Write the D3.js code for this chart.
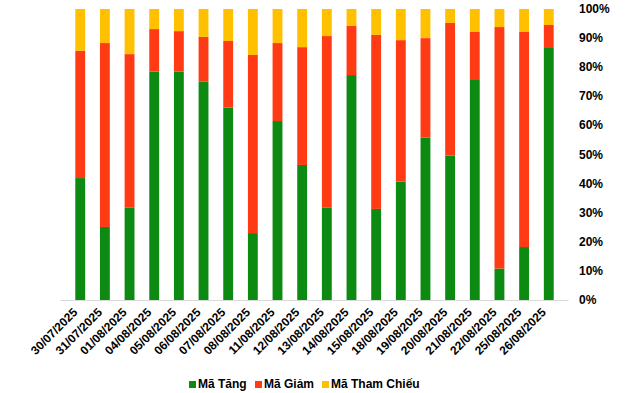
<!DOCTYPE html>
<html>
<head>
<meta charset="utf-8">
<script src="https://cdn.jsdelivr.net/npm/d3@7"></script>
<style>
  body{margin:0;background:#fff;}
  svg text{font-family:"Liberation Sans",Arial,sans-serif;font-weight:bold;fill:#000;}
</style>
</head>
<body>
<svg width="640" height="393"></svg>
<script>
const dates=['30/07/2025','31/07/2025','01/08/2025','04/08/2025','05/08/2025','06/08/2025','07/08/2025','08/08/2025','11/08/2025','12/08/2025','13/08/2025','14/08/2025','15/08/2025','18/08/2025','19/08/2025','20/08/2025','21/08/2025','22/08/2025','25/08/2025','26/08/2025'];
const maTang=[41.9,25.1,31.7,78.5,78.5,75.0,66.1,23.0,61.5,46.4,31.7,77.3,31.3,40.7,55.8,49.6,75.6,10.8,18.2,86.6];
const maGiam=[43.7,63.2,52.8,14.6,13.9,15.4,22.9,61.2,26.8,40.5,59.0,16.9,59.8,48.6,34.2,45.6,16.5,83.0,73.9,7.9];
const maThamChieu=[14.4,11.7,15.5,6.9,7.6,9.6,11.0,15.8,11.7,13.1,9.3,5.8,8.9,10.7,10.0,4.8,7.9,6.2,7.9,5.5];
const seriesNames=['Mã Tăng','Mã Giảm','Mã Tham Chiếu'];
const colors=['#0C8A12','#FF3B16','#FFC000'];
const yTicks=[0,0.1,0.2,0.3,0.4,0.5,0.6,0.7,0.8,0.9,1];

const rows=dates.map((d,i)=>({date:d,'Mã Tăng':maTang[i],'Mã Giảm':maGiam[i],'Mã Tham Chiếu':maThamChieu[i]}));
const stacked=d3.stack().keys(seriesNames).offset(d3.stackOffsetExpand)(rows);

const svg=d3.select('svg');
const x=d3.scaleBand().domain(dates).range([60.5,568.5]).padding(0.6);
const y=d3.scaleLinear().domain([0,1]).range([300,9]);

svg.append('g')
  .selectAll('g')
  .data(stacked)
  .enter()
  .append('g')
  .attr('fill',(d,i)=>colors[i])
  .selectAll('rect')
  .data(d=>d)
  .enter()
  .append('rect')
  .attr('x',d=>x(d.data.date))
  .attr('width',x.bandwidth())
  .attr('y',d=>y(d[1]))
  .attr('height',d=>y(d[0])-y(d[1]));

// x axis line
svg.append('line')
  .attr('x1',x.range()[0]).attr('x2',x.range()[1])
  .attr('y1',300.5).attr('y2',300.5)
  .attr('stroke','#d9d9d9').attr('stroke-width',1);

// y labels on the right
svg.append('g')
  .selectAll('text')
  .data(yTicks)
  .enter()
  .append('text')
  .attr('x',579)
  .attr('y',d=>y(d)+4)
  .style('font-size','12px')
  .text(d3.format('.0%'));

// date labels
svg.append('g')
  .selectAll('text')
  .data(dates)
  .enter()
  .append('text')
  .attr('text-anchor','end')
  .attr('transform',d=>`translate(${x(d)+x.bandwidth()/2-2},${313}) rotate(-45)`)
  .style('font-size','12px')
  .text(d=>d);

// legend
const legendX=[189,255,322];
const legend=svg.append('g')
  .selectAll('g')
  .data(seriesNames)
  .enter()
  .append('g')
  .attr('transform',(d,i)=>`translate(${legendX[i]},387)`);
legend.append('rect')
  .attr('x',0).attr('y',-6).attr('width',7).attr('height',7)
  .attr('fill',(d,i)=>colors[i]);
legend.append('text')
  .attr('x',9).attr('y',1)
  .style('font-size','12px')
  .text(d=>d);
</script>
</body>
</html>
